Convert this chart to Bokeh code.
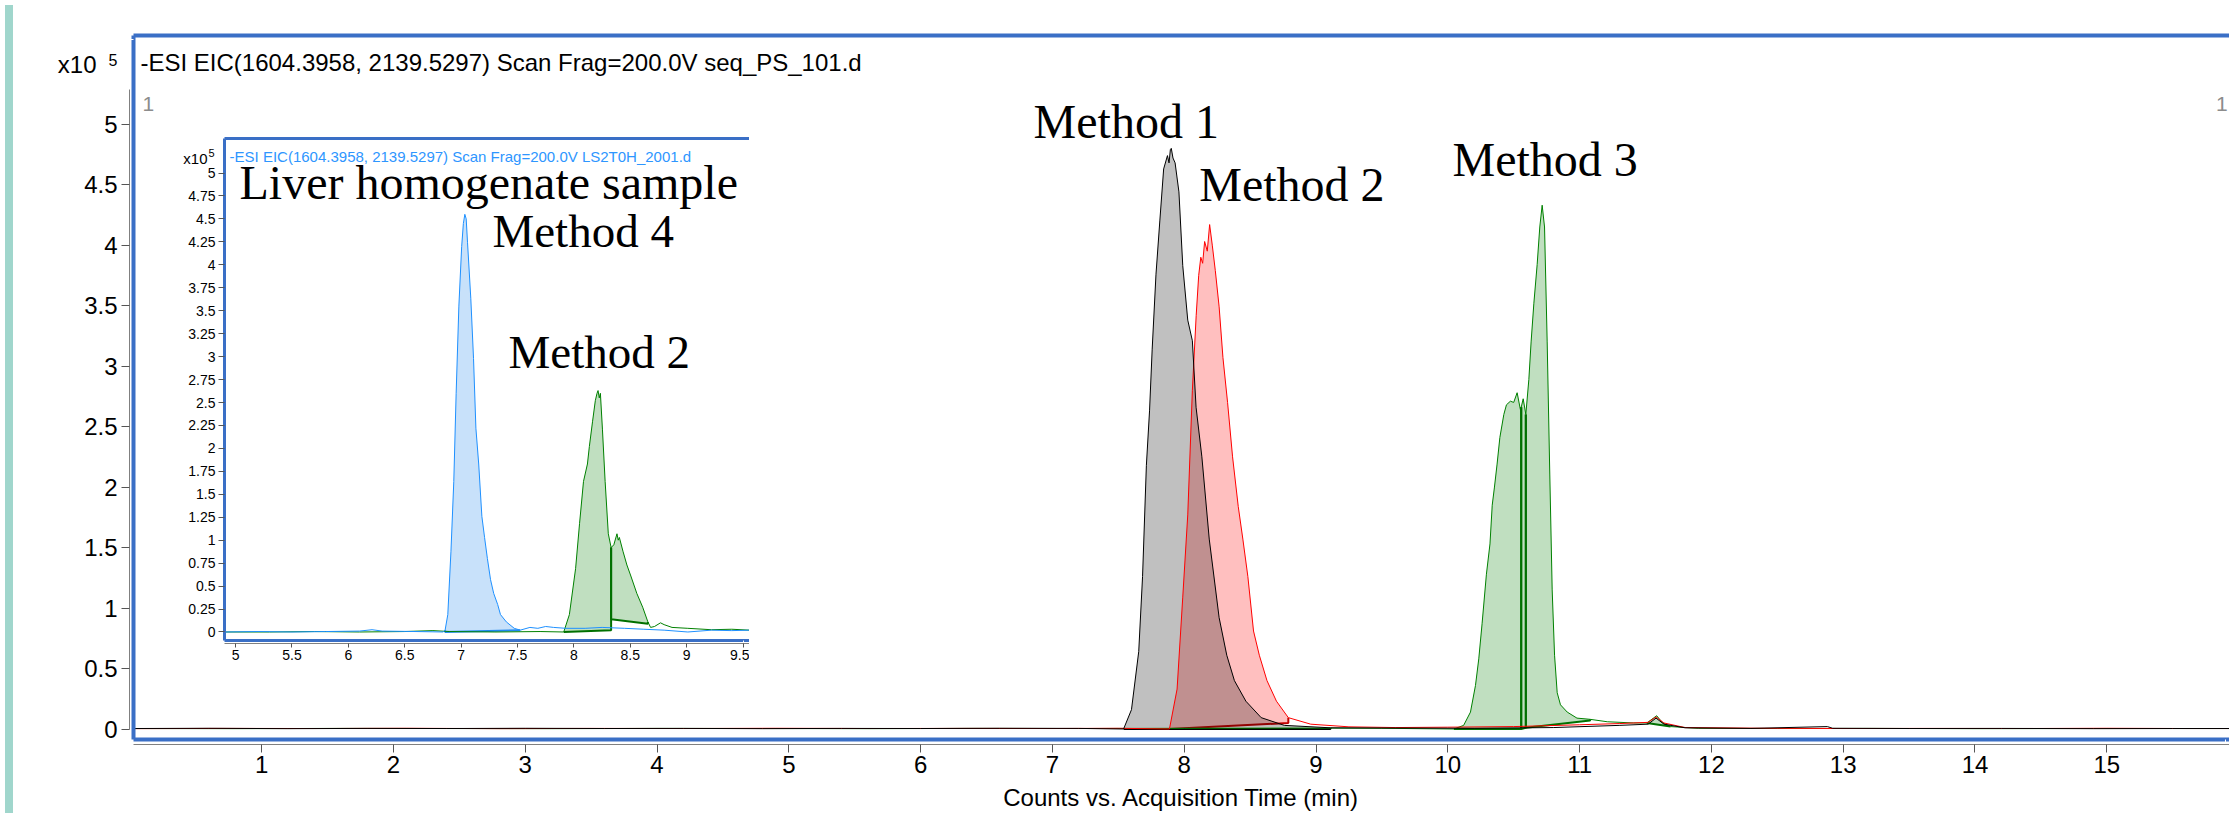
from bokeh.plotting import figure
from bokeh.models import Range1d, LinearAxis, FixedTicker, Label, Div
from bokeh.layouts import column
from bokeh.embed import file_html
from bokeh.resources import INLINE

# ---------------- main chromatogram data (x: min, y: counts x10^5) ----------------
m1_x = [0.0, 0.6, 1.2, 1.8, 2.4, 3.0, 3.6, 4.2, 4.8, 5.4, 6.0, 6.6, 7.2,
        7.54, 7.60, 7.655, 7.684, 7.713, 7.737, 7.757, 7.786, 7.815, 7.844,
        7.873, 7.885, 7.895, 7.902, 7.915, 7.931, 7.96, 7.989, 8.027, 8.062,
        8.09, 8.134, 8.19, 8.265, 8.323, 8.381, 8.468, 8.584, 8.76, 9.11,
        9.6, 10.2, 10.8, 11.3, 11.52, 11.58, 11.64, 11.8, 12.3, 12.88,
        12.92, 13.5, 14.2, 14.9, 15.5, 16.0]
m1_y = [0.004, 0.006, 0.003, 0.005, 0.004, 0.006, 0.004, 0.005, 0.003, 0.005, 0.004, 0.006, 0.005,
        0.0, 0.16, 0.64, 1.26, 2.18, 2.63, 3.14, 3.76, 4.20, 4.63,
        4.74, 4.68, 4.79, 4.80, 4.72, 4.68, 4.44, 3.83, 3.38, 3.21,
        2.66, 2.25, 1.57, 0.92, 0.61, 0.40, 0.23, 0.094, 0.03, 0.01,
        0.008, 0.006, 0.012, 0.03, 0.04, 0.09, 0.04, 0.01, 0.005, 0.02,
        0.006, 0.004, 0.005, 0.003, 0.004, 0.004]

m2_x = [0.0, 0.7, 1.4, 2.1, 2.8, 3.5, 4.2, 4.9, 5.6, 6.3, 7.0, 7.5,
        7.888, 7.946, 7.989, 8.027, 8.062, 8.091, 8.11,
        8.126, 8.14, 8.155, 8.175, 8.193, 8.213, 8.236, 8.265, 8.294, 8.329,
        8.367, 8.41, 8.445, 8.483, 8.526, 8.57, 8.628, 8.70, 8.79, 8.96,
        9.25, 9.6, 10.0, 10.5, 11.0, 11.3, 11.52, 11.58, 11.64, 11.8,
        12.4, 13.0, 13.6, 14.3, 15.0, 15.6, 16.0]
m2_y = [0.003, 0.005, 0.004, 0.006, 0.003, 0.005, 0.004, 0.006, 0.004, 0.005, 0.004, 0.006,
        0.0, 0.33, 1.09, 1.77, 2.80, 3.42, 3.75,
        3.90, 3.85, 4.03, 3.95, 4.17, 4.00, 3.79, 3.49, 3.07, 2.70,
        2.25, 1.84, 1.57, 1.26, 0.81, 0.61, 0.40, 0.23, 0.094, 0.04,
        0.018, 0.012, 0.015, 0.02, 0.035, 0.045, 0.055, 0.10, 0.05, 0.012,
        0.006, 0.004, 0.005, 0.004, 0.006, 0.004, 0.004]

m3_x = [0.0, 0.8, 1.6, 2.4, 3.2, 4.0, 4.8, 5.6, 6.4, 7.2, 8.0, 8.8, 9.5,
        10.046, 10.12, 10.172, 10.21, 10.235, 10.26, 10.293, 10.32, 10.337, 10.354,
        10.374, 10.395, 10.425, 10.445, 10.475, 10.5, 10.526, 10.551, 10.557, 10.572,
        10.592, 10.615, 10.632, 10.653, 10.678, 10.698, 10.716, 10.734, 10.754, 10.774,
        10.792, 10.81, 10.83, 10.855, 10.906, 10.98, 11.08, 11.21, 11.41, 11.51,
        11.56, 11.585, 11.63, 11.69, 11.9, 12.5, 13.2, 14.0, 14.8, 15.5, 16.0]
m3_y = [0.004, 0.003, 0.005, 0.004, 0.003, 0.005, 0.004, 0.003, 0.005, 0.004, 0.006, 0.008, 0.006,
        0.0, 0.03, 0.14, 0.36, 0.58, 0.87, 1.28, 1.53, 1.85, 2.00,
        2.19, 2.41, 2.60, 2.68, 2.71, 2.70, 2.78, 2.64, 2.66, 2.73,
        2.60, 2.89, 3.20, 3.52, 3.84, 4.15, 4.33, 4.15, 3.20, 2.10,
        1.15, 0.61, 0.30, 0.20, 0.14, 0.09, 0.08, 0.06, 0.05, 0.05,
        0.09, 0.11, 0.05, 0.02, 0.006, 0.004, 0.005, 0.003, 0.004, 0.004, 0.004]

# integration regions: (start x, end x, baseline at start, baseline at end)
m1_regions = [(7.54, 9.11, 0.0, 0.0)]
m2_regions = [(7.888, 8.79, 0.0, 0.05)]
m3_regions = [(10.046, 10.557, 0.0, 0.0), (10.557, 10.592, 0.0, 0.01),
              (10.592, 11.08, 0.01, 0.07), (11.51, 11.69, 0.05, 0.02)]

# ---------------- inset (liver homogenate sample) ----------------
i4_x = [4.9, 5.2, 5.5, 5.8, 6.1, 6.21, 6.3, 6.6, 6.84,
        6.858, 6.882, 6.91, 6.935, 6.956, 6.98, 7.005, 7.02, 7.033, 7.045,
        7.057, 7.086, 7.11, 7.131, 7.156, 7.184, 7.208, 7.233, 7.261, 7.289,
        7.324, 7.349, 7.401, 7.471, 7.524, 7.61, 7.68, 7.75, 7.82, 7.93,
        8.10, 8.25, 8.45, 8.62, 8.80, 9.01, 9.22, 9.4, 9.56]
i4_y = [0.0, 0.005, 0.0, 0.005, 0.01, 0.025, 0.01, 0.005, 0.0,
        0.02, 0.19, 0.88, 1.64, 2.60, 3.55, 4.20, 4.45, 4.55, 4.50,
        4.24, 3.63, 2.98, 2.22, 1.83, 1.26, 1.03, 0.80, 0.57, 0.42,
        0.30, 0.19, 0.11, 0.04, 0.02, 0.05, 0.04, 0.06, 0.05, 0.04,
        0.04, 0.05, 0.04, 0.03, 0.02, 0.0, 0.02, 0.015, 0.02]

i2_x = [4.9, 5.3, 5.7, 6.1, 6.5, 6.75, 6.9, 7.3, 7.7,
        7.91, 7.96, 8.015, 8.05, 8.085, 8.12, 8.137, 8.165, 8.19, 8.205,
        8.214, 8.225, 8.235, 8.253, 8.277, 8.305, 8.33, 8.354, 8.382, 8.393,
        8.403, 8.435, 8.47, 8.505, 8.558, 8.61, 8.656, 8.68, 8.715, 8.768,
        8.8, 8.87, 9.01, 9.22, 9.4, 9.56]
i2_y = [0.0, 0.0, 0.005, 0.0, 0.005, 0.015, 0.005, 0.0, 0.005,
        0.0, 0.19, 0.69, 1.18, 1.64, 1.83, 2.02, 2.29, 2.52, 2.60,
        2.63, 2.55, 2.60, 2.21, 1.64, 1.07, 0.92, 0.95, 1.07, 1.00,
        1.03, 0.88, 0.73, 0.61, 0.42, 0.27, 0.11, 0.05, 0.06, 0.10,
        0.08, 0.05, 0.04, 0.025, 0.03, 0.02]

i4_regions = [(6.858, 7.524, 0.0, 0.02)]
i2_regions = [(7.91, 8.33, 0.0, 0.02), (8.33, 8.656, 0.14, 0.09)]

# ---------------- ticks / labels ----------------
main_x_ticks = [1, 2, 3, 4, 5, 6, 7, 8, 9, 10, 11, 12, 13, 14, 15]
main_x_labels = ["1", "2", "3", "4", "5", "6", "7", "8", "9", "10", "11", "12", "13", "14", "15"]
main_y_ticks = [0, 0.5, 1, 1.5, 2, 2.5, 3, 3.5, 4, 4.5, 5]
main_y_labels = ["0", "0.5", "1", "1.5", "2", "2.5", "3", "3.5", "4", "4.5", "5"]
inset_x_ticks = [5, 5.5, 6, 6.5, 7, 7.5, 8, 8.5, 9, 9.5]
inset_x_labels = ["5", "5.5", "6", "6.5", "7", "7.5", "8", "8.5", "9", "9.5"]
inset_y_ticks = [0, 0.25, 0.5, 0.75, 1, 1.25, 1.5, 1.75, 2, 2.25, 2.5, 2.75,
                 3, 3.25, 3.5, 3.75, 4, 4.25, 4.5, 4.75, 5]
inset_y_labels = ["0", "0.25", "0.5", "0.75", "1", "1.25", "1.5", "1.75", "2", "2.25", "2.5", "2.75",
                  "3", "3.25", "3.5", "3.75", "4", "4.25", "4.5", "4.75", "5"]
scale_base = "x10"
scale_exp = "5"

main_title = "-ESI EIC(1604.3958, 2139.5297) Scan Frag=200.0V seq_PS_101.d"
inset_title = "-ESI EIC(1604.3958, 2139.5297) Scan Frag=200.0V LS2T0H_2001.d"
x_title = "Counts vs. Acquisition Time (min)"

BLUE = "#3a6fc6"
SANS = "Liberation Sans"
SERIF = "Liberation Serif"


def frame_axis(width, gap, tick_at):
    # blue frame edge; one invisible (white) tick keeps a gap before the next axis
    return LinearAxis(ticker=FixedTicker(ticks=[tick_at]), major_label_overrides={tick_at: ""},
                      axis_line_color=BLUE, axis_line_width=width,
                      major_tick_out=gap, major_tick_in=0, major_tick_line_color="white",
                      minor_tick_line_color=None, major_label_text_font_size="1px",
                      major_label_text_alpha=0, major_label_standoff=0)


def value_axis(ticks, labels, size, tick_out, standoff, line_color="#808080", line_width=1):
    return LinearAxis(ticker=FixedTicker(ticks=ticks),
                      major_label_overrides={t: l for t, l in zip(ticks, labels)},
                      axis_line_color=line_color, axis_line_width=line_width,
                      major_tick_out=tick_out, major_tick_in=0, major_tick_line_color="#555555",
                      minor_tick_line_color=None, major_label_text_font=SANS,
                      major_label_text_font_size=size, major_label_text_color="#000000",
                      major_label_standoff=standoff)


def scale_axis(at, text, size, standoff):
    return LinearAxis(ticker=FixedTicker(ticks=[at]), major_label_overrides={at: text},
                      axis_line_color=None, major_tick_line_color=None, minor_tick_line_color=None,
                      major_tick_out=0, major_tick_in=0, major_label_text_font=SANS,
                      major_label_text_font_size=size, major_label_text_color="#000000",
                      major_label_standoff=standoff)


def draw_regions(fig, xs, ys, regions, fill, fill_alpha, edge_color):
    for (x0, x1, b0, b1) in regions:
        i0, i1 = xs.index(x0), xs.index(x1)
        px = [x0] + xs[i0:i1 + 1] + [x1]
        py = [b0] + ys[i0:i1 + 1] + [b1]
        fig.patch(px, py, fill_color=fill, fill_alpha=fill_alpha, line_color=None)
    for (x0, x1, b0, b1) in regions:
        i0, i1 = xs.index(x0), xs.index(x1)
        fig.line([x1, x1, x0, x0], [ys[i1], b1, b0, ys[i0]], line_color=edge_color, line_width=2)


def add_label(fig, x, y, text, font, size, color="#000000", align="left"):
    fig.add_layout(Label(x=x, y=y, text=text, text_font=font, text_font_size=size,
                         text_color=color, text_baseline="alphabetic", text_align=align))


# ---------------- main figure ----------------
p = figure(width=2229, height=813, x_range=Range1d(0.028, 15.931), y_range=Range1d(-0.0867, 5.733),
           x_axis_location=None, y_axis_location=None, toolbar_location=None, output_backend="svg",
           min_border_left=133, min_border_right=0, min_border_top=35, min_border_bottom=73)
p.outline_line_color = None
p.xgrid.visible = False
p.ygrid.visible = False
p.background_fill_color = "white"
p.border_fill_color = "white"

p.add_layout(frame_axis(4, 5, 15.9), "below")
xa = value_axis(main_x_ticks, main_x_labels, "24px", 8, 3)
xa.axis_label = x_title
xa.axis_label_text_font = SANS
xa.axis_label_text_font_size = "24px"
xa.axis_label_text_font_style = "normal"
xa.axis_label_text_color = "#000000"
xa.axis_label_standoff = 8
p.add_layout(xa, "below")
p.add_layout(frame_axis(4, 4, 5.7), "left")
ya = value_axis(main_y_ticks, main_y_labels, "24px", 8, 4)
ya.bounds = (0, 5.29)
p.add_layout(ya, "left")
p.add_layout(scale_axis(5.497, scale_base, "24px", -15), "left")
p.add_layout(scale_axis(5.534, scale_exp, "16px", -63), "left")
p.add_layout(frame_axis(4, 0, 15.9), "above")

draw_regions(p, m2_x, m2_y, m2_regions, "#ffbfbf", 1.0, "#c00000")
draw_regions(p, m1_x, m1_y, m1_regions, "#030303", 0.25, "#000000")
draw_regions(p, m3_x, m3_y, m3_regions, "#c0dfc0", 1.0, "#007000")
p.line(m3_x, m3_y, line_color="#008000", line_width=1)
p.line(m2_x, m2_y, line_color="#ff0000", line_width=1)
p.line(m1_x, m1_y, line_color="#000000", line_width=1)

add_label(p, 0.081, 5.507, main_title, SANS, "24px")
add_label(p, 0.096, 5.169, "1", SANS, "21px", "#8c8c8c")
add_label(p, 15.918, 5.169, "1", SANS, "21px", "#8c8c8c", "right")
add_label(p, 6.857, 5.018, "Method 1", SERIF, "48px")
add_label(p, 8.114, 4.501, "Method 2", SERIF, "48px")
add_label(p, 10.036, 4.704, "Method 3", SERIF, "48px")

# ---------------- inset figure ----------------
q = figure(width=658, height=538, x_range=Range1d(4.902, 9.557), y_range=Range1d(-0.0926, 5.376),
           x_axis_location=None, y_axis_location=None, toolbar_location=None, output_backend="svg",
           min_border_left=133, min_border_right=0, min_border_top=8, min_border_bottom=28,
           styles={"position": "absolute", "left": "91px", "top": "130px", "z-index": "5"})
q.outline_line_color = None
q.xgrid.visible = False
q.ygrid.visible = False
q.background_fill_color = "white"
q.border_fill_color = None

q.add_layout(frame_axis(3, 3, 9.5), "below")
q.add_layout(value_axis(inset_x_ticks, inset_x_labels, "14px", 4, 2), "below")
q.add_layout(value_axis(inset_y_ticks, inset_y_labels, "14px", 6, 3, BLUE, 3), "left")
q.add_layout(scale_axis(5.163, scale_base, "15px", -22), "left")
q.add_layout(scale_axis(5.218, scale_exp, "11px", -34), "left")
q.add_layout(frame_axis(3, 0, 9.5), "above")

draw_regions(q, i4_x, i4_y, i4_regions, "#c8e1fa", 1.0, "#1e88f0")
draw_regions(q, i2_x, i2_y, i2_regions, "#c0dfc0", 1.0, "#007000")
q.line(i2_x, i2_y, line_color="#008000", line_width=1)
q.line(i4_x, i4_y, line_color="#1e90ff", line_width=1)

add_label(q, 4.947, 5.177, inset_title, SANS, "15px", "#2e96ff")
add_label(q, 5.035, 4.898, "Liver homogenate sample", SERIF, "48px")
add_label(q, 7.278, 4.364, "Method 4", SERIF, "47px")
add_label(q, 7.42, 3.047, "Method 2", SERIF, "47px")

strip = Div(text="", width=8, height=813,
            styles={"position": "absolute", "left": "0px", "top": "0px", "width": "8px",
                    "height": "813px", "background-color": "#a0d6cc", "z-index": "6"})

root = column(p, q, strip, width=2229, height=813, styles={"position": "relative"})

open("out.html", "w").write(file_html(root, INLINE))
